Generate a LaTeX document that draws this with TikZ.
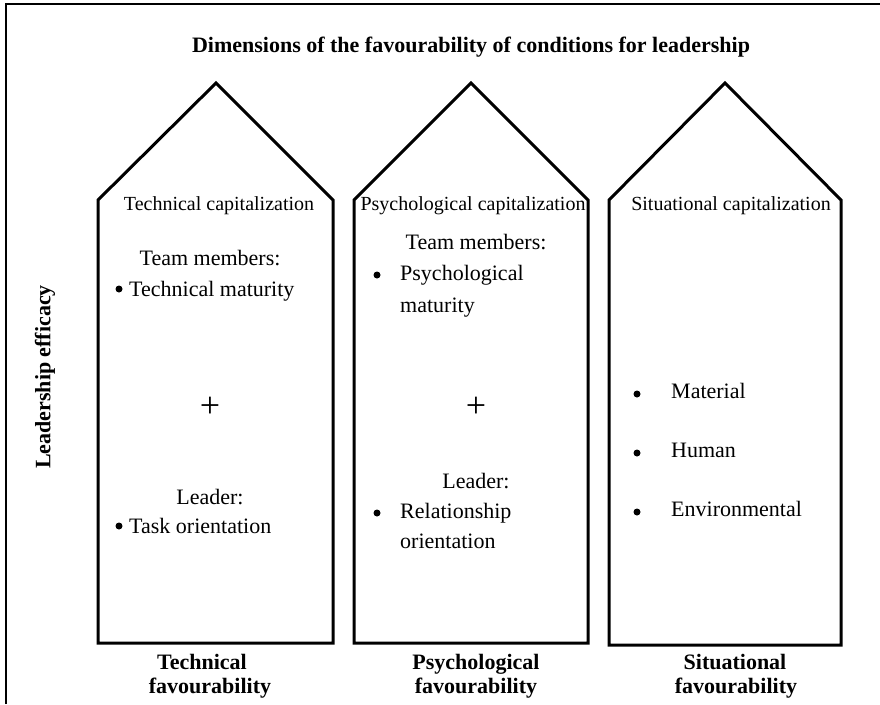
\documentclass[tikz,border=0pt]{standalone}
\usepackage{fontspec}
\setmainfont{Liberation Serif}
\begin{document}
\begin{tikzpicture}[x=1pt,y=-1pt,
  house/.style={line width=3pt, line join=miter},
  frameline/.style={line width=2.8pt, line join=miter},
  body/.style={inner sep=0pt, font=\fontsize{22}{26}\selectfont},
  head/.style={inner sep=0pt, font=\fontsize{20}{24}\selectfont},
  plussign/.style={inner sep=0pt, font=\fontsize{36}{40}\selectfont},
  dot/.style={circle, fill=black, inner sep=0pt, minimum size=7pt},
  boldtext/.style={inner sep=0pt, font=\fontsize{22}{25}\selectfont\bfseries},
]
\useasboundingbox (0,0) rectangle (880,704);
% frame
\coordinate (fbl) at (6,704);
\coordinate (ftl) at (6,4);
\coordinate (ftr) at (880,4);
\draw[frameline] (fbl) -- (ftl) -- (ftr);

\node[boldtext, anchor=base] (title) at (471,52) {Dimensions of the favourability of conditions for leadership};
\node[boldtext, rotate=90] (eff) at (45,377) {Leadership efficacy};

% houses
\draw[house] (98,643) -- (98,200) -- (216,83) -- (333,200) -- (333,643) -- cycle;
\draw[house] (354,643) -- (354,200) -- (471,83) -- (588,200) -- (588,643) -- cycle;
\draw[house] (609,645) -- (609,200) -- (725,83) -- (841,200) -- (841,645) -- cycle;

% house 1
\node[head, anchor=base] (h1) at (219,210) {Technical capitalization};
\node[body, anchor=base] (tm1) at (210,265) {Team members:};
\node[dot] (b1a) at (119,289) {};
\node[body, anchor=base west] (t1a) at (129,296) {Technical maturity};
\node[plussign] (p1) at (210,407) {+};
\node[body, anchor=base] (l1) at (210,504) {Leader:};
\node[dot] (b1b) at (119,526) {};
\node[body, anchor=base west] (t1b) at (129,533) {Task orientation};

% house 2
\node[head, anchor=base] (h2) at (473,210) {Psychological capitalization};
\node[body, anchor=base] (tm2) at (476,249) {Team members:};
\node[dot] (b2a) at (377,275) {};
\node[body, anchor=base west] (t2a) at (400,280) {Psychological};
\node[body, anchor=base west] (t2b) at (400,312) {maturity};
\node[plussign] (p2) at (476,407) {+};
\node[body, anchor=base] (l2) at (476,488) {Leader:};
\node[dot] (b2b) at (377,513) {};
\node[body, anchor=base west] (t2c) at (400,518) {Relationship};
\node[body, anchor=base west] (t2d) at (400,548) {orientation};

% house 3
\node[head, anchor=base] (h3) at (731,210) {Situational capitalization};
\node[dot] (b3a) at (637,394) {};
\node[body, anchor=base west] (t3a) at (671,398) {Material};
\node[dot] (b3b) at (637,453) {};
\node[body, anchor=base west] (t3b) at (671,457) {Human};
\node[dot] (b3c) at (637,512) {};
\node[body, anchor=base west] (t3c) at (671,516) {Environmental};

% bottom labels
\node[boldtext, anchor=base] (f1a) at (202,669) {Technical};
\node[boldtext, anchor=base] (f1b) at (210,693) {favourability};
\node[boldtext, anchor=base] (f2a) at (476,669) {Psychological};
\node[boldtext, anchor=base] (f2b) at (476,693) {favourability};
\node[boldtext, anchor=base] (f3a) at (735,669) {Situational};
\node[boldtext, anchor=base] (f3b) at (736,693) {favourability};
\end{tikzpicture}
\end{document}
